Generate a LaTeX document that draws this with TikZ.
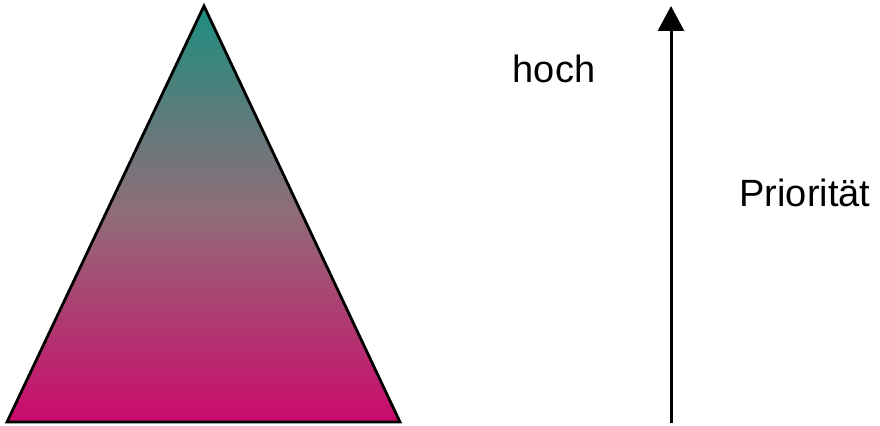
\documentclass[tikz,border=0pt]{standalone}
\usepackage{fontspec}
\setmainfont{Liberation Sans}
\usetikzlibrary{arrows.meta}
\definecolor{tealtop}{RGB}{30,142,128}
\definecolor{graymid}{RGB}{145,108,120}
\definecolor{magbot}{RGB}{204,10,108}
\tikzset{
  label/.style={font=\fontsize{19}{22}\selectfont, inner sep=0pt},
}
\begin{document}
\begin{tikzpicture}[x=0.5pt,y=-0.5pt]
                \useasboundingbox (0,0) rectangle (880,426);
                \coordinate (apex) at (204,6);
                \coordinate (left) at (7,422);
                \coordinate (right) at (400,422);
                \path[draw=black, line width=1.4pt, line join=miter, top color=tealtop, bottom color=magbot, middle color=graymid]
                    (apex)--(left)--(right)--cycle;
                \coordinate (tail) at (671,423);
                \coordinate (tip) at (671,6);
                \draw[-{Triangle[width=13pt,length=12.5pt]},line width=1.5pt] (tail)--(tip);
                \node[label, anchor=base] (hoch) at (554,83) {hoch};
                \node[label, anchor=base] (prio) at (805,207) {Priorität};
            \end{tikzpicture}
\end{document}
